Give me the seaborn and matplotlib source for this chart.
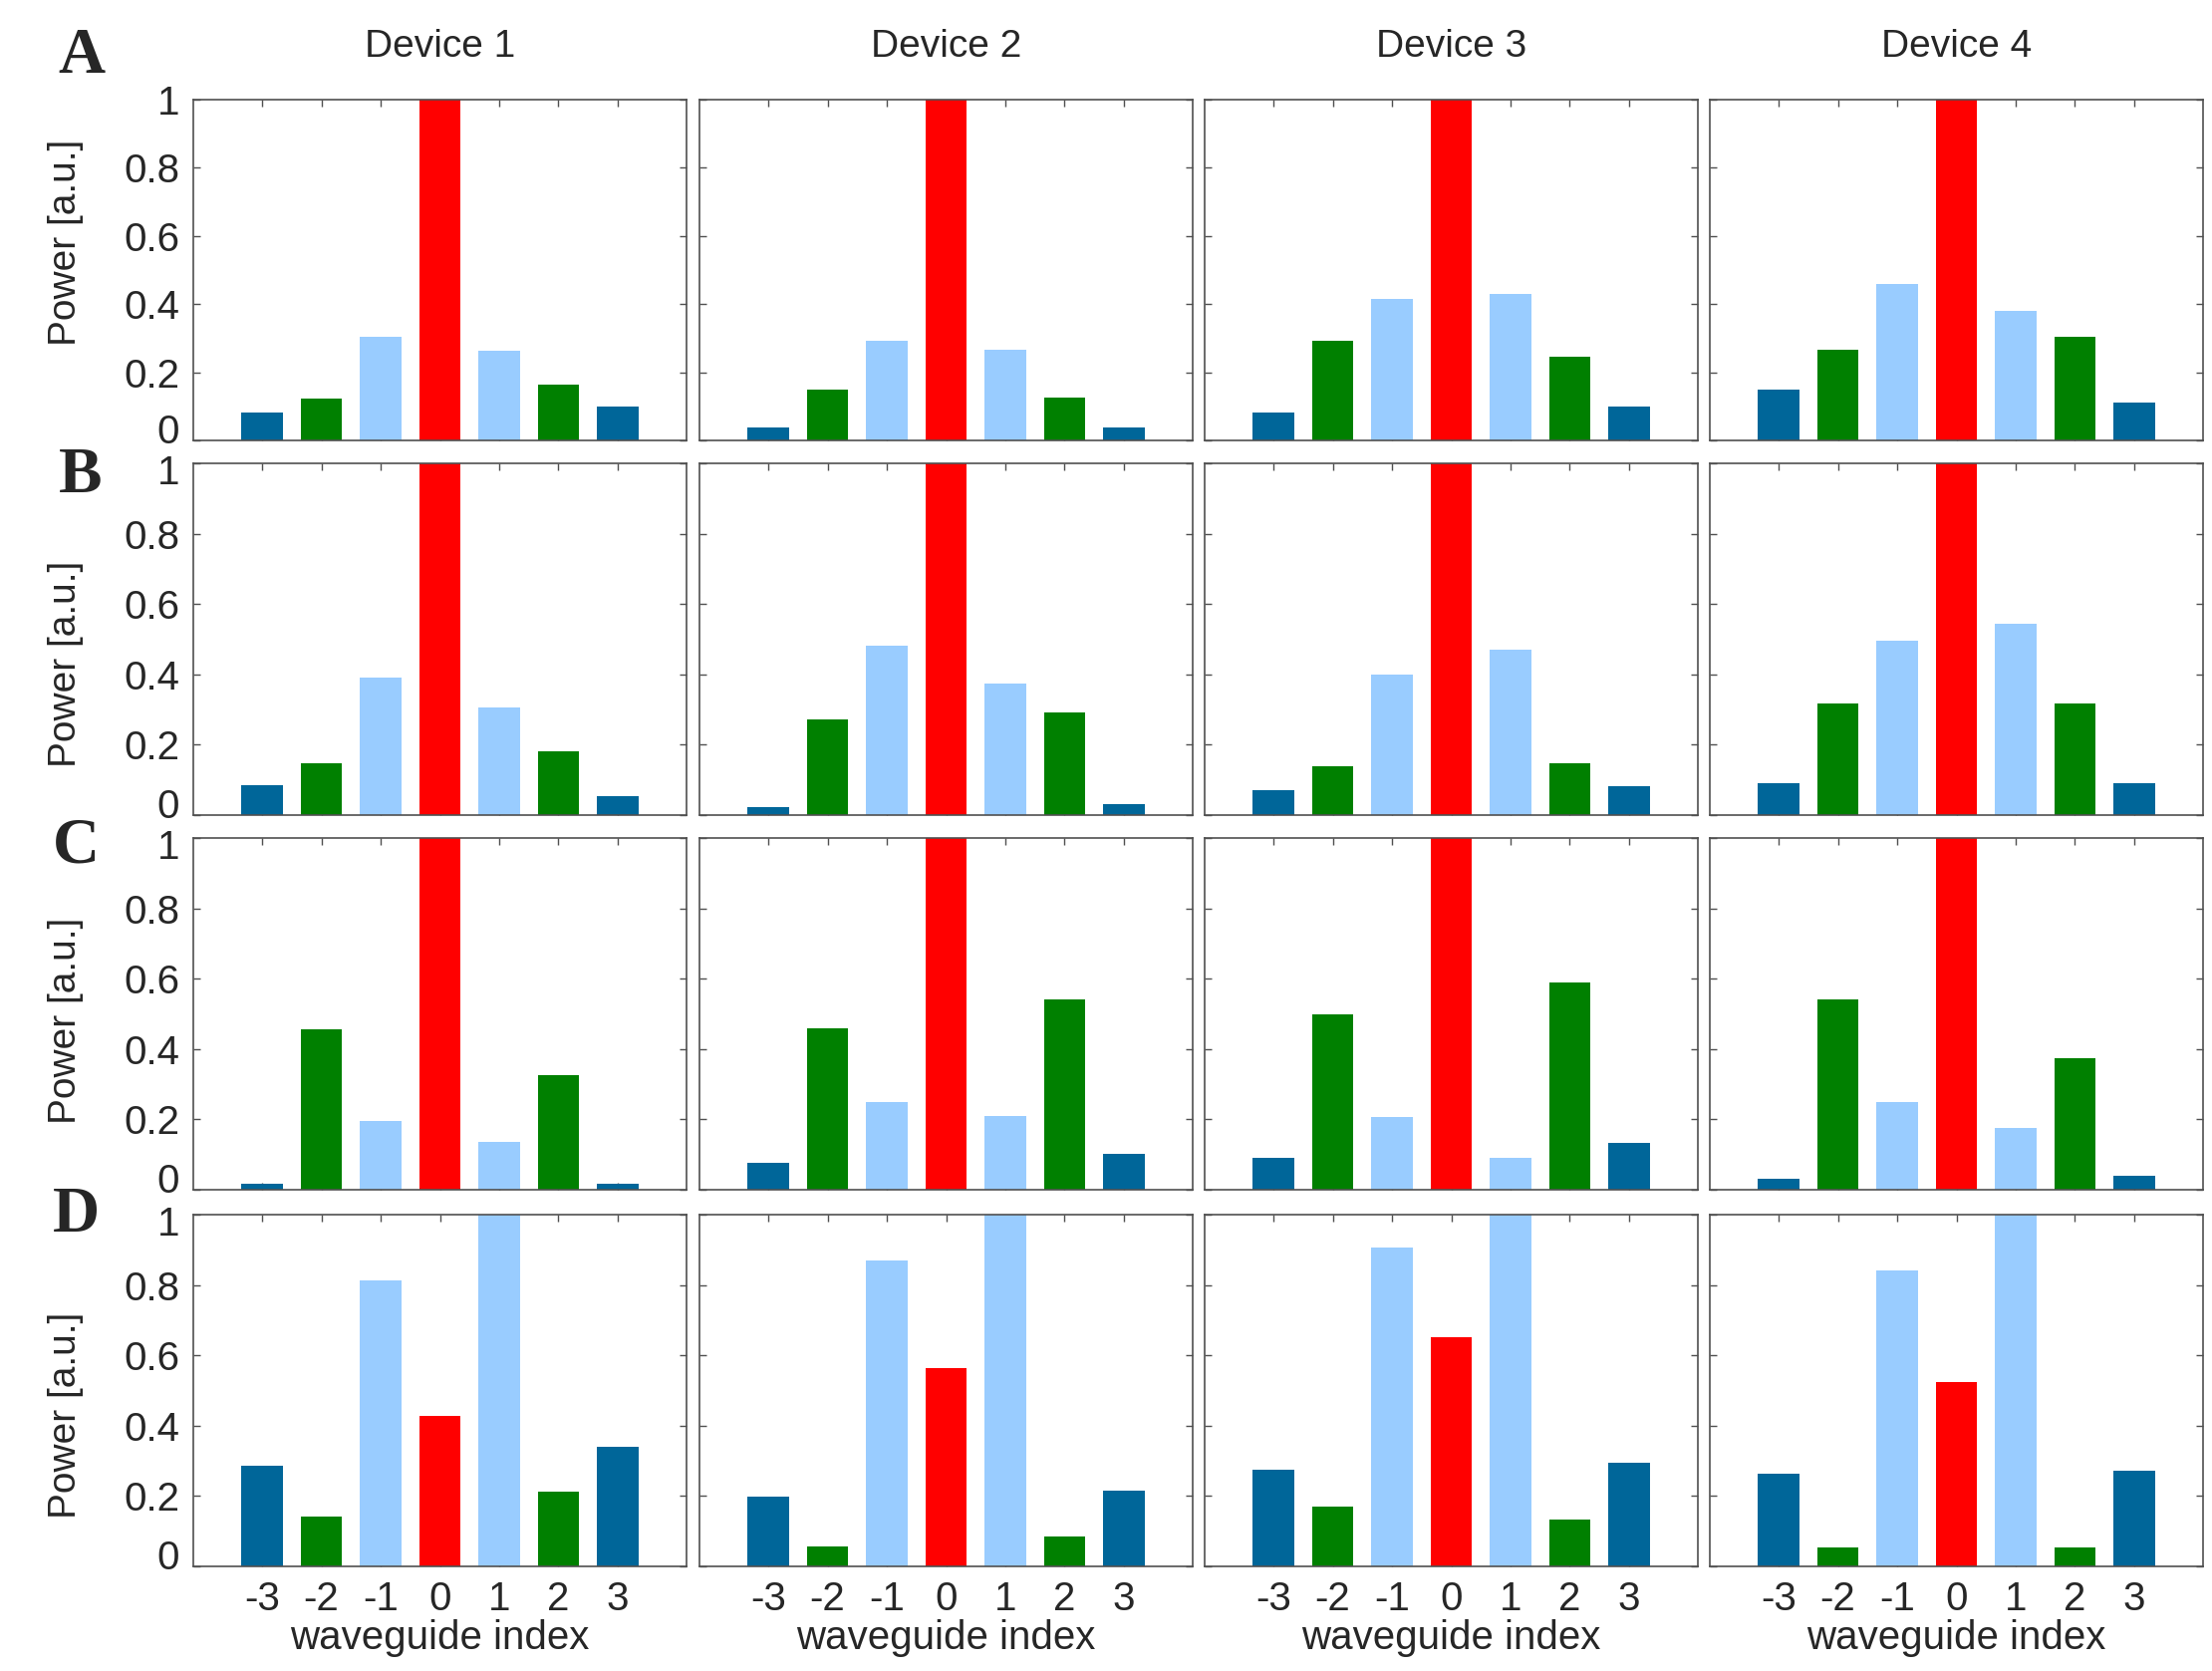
import pandas as pd
import matplotlib
matplotlib.use("Agg")
import matplotlib.pyplot as plt
import matplotlib.transforms as mtransforms
import seaborn as sns

# waveguide index and bar colours
idx = ["-3", "-2", "-1", "0", "1", "2", "3"]
bar_colors = ["#006699", "#008000", "#99ccff", "#ff0000", "#99ccff", "#008000", "#006699"]
devices = ["Device 1", "Device 2", "Device 3", "Device 4"]
row_letters = ["A", "B", "C", "D"]
yticks = [0, 0.2, 0.4, 0.6, 0.8, 1]
ytick_labels = ["0", "0.2", "0.4", "0.6", "0.8", "1"]

# power values, one list per device, one block per row
row_a = [
    [0.081, 0.122, 0.305, 1.0, 0.264, 0.165, 0.098],
    [0.037, 0.150, 0.291, 1.0, 0.267, 0.127, 0.037],
    [0.081, 0.291, 0.414, 1.0, 0.431, 0.247, 0.098],
    [0.150, 0.267, 0.460, 1.0, 0.381, 0.305, 0.112],
]
row_b = [
    [0.085, 0.147, 0.390, 1.0, 0.305, 0.182, 0.055],
    [0.022, 0.273, 0.481, 1.0, 0.373, 0.291, 0.031],
    [0.072, 0.140, 0.399, 1.0, 0.471, 0.147, 0.081],
    [0.090, 0.316, 0.497, 1.0, 0.543, 0.316, 0.090],
]
row_c = [
    [0.017, 0.455, 0.195, 1.0, 0.137, 0.326, 0.017],
    [0.076, 0.460, 0.250, 1.0, 0.210, 0.542, 0.101],
    [0.091, 0.499, 0.207, 1.0, 0.091, 0.589, 0.134],
    [0.032, 0.540, 0.248, 1.0, 0.176, 0.374, 0.041],
]
row_d = [
    [0.285, 0.142, 0.812, 0.428, 1.0, 0.212, 0.341],
    [0.198, 0.058, 0.869, 0.563, 1.0, 0.085, 0.215],
    [0.276, 0.169, 0.907, 0.651, 1.0, 0.134, 0.294],
    [0.263, 0.054, 0.840, 0.525, 1.0, 0.054, 0.271],
]
all_rows = [row_a, row_b, row_c, row_d]

sns.set_style("white")
plt.rcParams["font.family"] = ["Liberation Sans", "DejaVu Sans"]

fig = plt.figure(figsize=(22.2, 16.77), dpi=100)
W, H = 2220, 1677

col_left = [194, 702, 1209, 1716]
col_w = 495
row_top = [100, 465, 841, 1219]
row_bot = [442, 818, 1194, 1572]
ylabel_y = [0.58, 0.43, 0.48, 0.43]

pal = dict(zip(idx, bar_colors))
spine_col = "#505050"
fs = 29


def nudge(label, dy_px):
    label.set_transform(label.get_transform() + mtransforms.ScaledTranslation(
        0, dy_px / 100, fig.dpi_scale_trans))


for r in range(4):
    for c in range(4):
        ax = fig.add_axes([col_left[c] / W, 1 - row_bot[r] / H,
                           col_w / W, (row_bot[r] - row_top[r]) / H])
        df = pd.DataFrame({"idx": idx, "power": all_rows[r][c]})
        sns.barplot(data=df, x="idx", y="power", hue="idx", order=idx,
                    palette=pal, legend=False, width=0.7, saturation=1,
                    linewidth=0, ax=ax)
        ax.set_xlim(-1.16, 7.16)
        ax.set_ylim(0, 1)
        ax.set_yticks(yticks)
        ax.set_xlabel("")
        ax.set_ylabel("")
        for s in ax.spines.values():
            s.set_color(spine_col)
            s.set_linewidth(1.2)
        ax.tick_params(direction="in", length=5, width=1, color=spine_col,
                       top=True, right=True, bottom=True, left=True,
                       labelsize=fs, pad=10)
        if c == 0:
            ax.set_yticklabels(ytick_labels)
            labs = ax.get_yticklabels()
            # keep the "0" and "1" of stacked rows apart
            nudge(labs[0], 12)
            if r > 0:
                nudge(labs[-1], -6)
            ax.set_ylabel("Power [a.u.]", fontsize=fs - 1)
            ax.yaxis.set_label_coords(-0.222, ylabel_y[r])
        else:
            ax.set_yticklabels([])
        if r == 3:
            ax.set_xticks(range(7))
            ax.set_xticklabels(idx)
            ax.set_xlabel("waveguide index", fontsize=fs)
            ax.xaxis.set_label_coords(0.5, -0.15)
        else:
            ax.set_xticklabels([])

# column titles
for c in range(4):
    fig.text((col_left[c] + col_w / 2) / W, 1 - 47 / H, devices[c],
             ha="center", va="center", fontsize=28)

# row letters
letter_pos = [(82, 57), (81, 478), (76, 849), (76, 1220)]
for (x, y), lab in zip(letter_pos, row_letters):
    fig.text(x / W, 1 - y / H, lab, ha="center", va="center", fontsize=47,
             fontweight="bold", family=["Liberation Serif", "DejaVu Serif"])

fig.savefig("out.png", dpi=100)
